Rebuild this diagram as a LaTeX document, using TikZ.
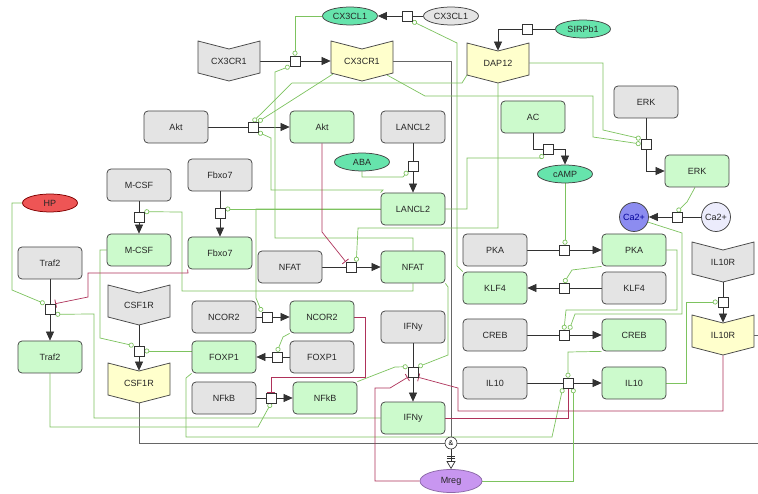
\documentclass[tikz,border=0pt]{standalone}
\usepackage{fontspec}
\setmainfont{Liberation Sans}
\usetikzlibrary{arrows.meta,shapes.geometric,calc}
\definecolor{gfill}{RGB}{228,228,228}
\definecolor{bdraw}{RGB}{70,70,70}
\definecolor{nfill}{RGB}{204,250,204}
\definecolor{yfill}{RGB}{255,255,204}
\definecolor{tfill}{RGB}{102,228,172}
\definecolor{lgreen}{RGB}{125,195,95}
\definecolor{lred}{RGB}{175,50,90}
\definecolor{hpred}{RGB}{238,85,85}
\definecolor{cablue}{RGB}{140,140,240}
\definecolor{calight}{RGB}{236,236,252}
\definecolor{mregc}{RGB}{200,150,240}
\definecolor{lblack}{RGB}{50,50,50}
\pgfdeclarelayer{back}
\pgfdeclarelayer{bg}
\pgfsetlayers{back,bg,main}
\tikzset{
 base/.style={font=\fontsize{9}{10}\selectfont, text=black!85, draw=bdraw, line width=0.75pt, inner sep=0pt},
 gbox/.style={base, rectangle, rounded corners=4pt, minimum width=64pt, minimum height=32pt, fill=gfill},
 nbox/.style={gbox, fill=nfill},
 ell/.style={base, ellipse, minimum width=55pt, minimum height=18pt},
 proc/.style={draw=lblack, fill=white, minimum size=10pt, inner sep=0pt, line width=0.6pt},
 rtext/.style={base, draw=none, minimum width=62pt, minimum height=40pt},
 rshape/.style={draw=bdraw, line width=0.75pt},
 cons/.style={draw=lblack, line width=0.7pt},
 prod/.style={cons, -{Triangle[length=9pt,width=8pt]}},
 cat/.style={draw=lgreen, line width=0.7pt, -{Circle[length=5pt,width=5pt,fill=white]}},
 inh/.style={draw=lred, line width=0.7pt, -{Bar[width=8pt,line width=0.8pt]}},
 andl/.style={draw=gray!80!black, line width=0.8pt},
}
\newcommand{\rcpt}[5]{\draw[rshape,fill=#5,shift={(#2,#3)}] (-31,-20) -- (0,-12) -- (31,-20) -- (31,12) -- (0,20) -- (-31,12) -- cycle; \node[rtext] (#1) at (#2,#3) {#4};}
\begin{document}
\begin{tikzpicture}[x=1pt,y=-1pt]
\begin{pgfonlayer}{back}
\fill[white] (0,0) rectangle (758,494);
\end{pgfonlayer}
\useasboundingbox (0,0) rectangle (758,494);
% receptors
\rcpt{gCXR}{229}{61}{CX3CR1}{gfill}
\rcpt{yCXR}{362}{61}{CX3CR1}{yfill}
\rcpt{yDAP}{498}{63}{DAP12}{yfill}
\rcpt{gCSF}{139}{305}{CSF1R}{gfill}
\rcpt{yCSF}{139}{383}{CSF1R}{yfill}
\rcpt{gILR}{723}{262}{IL10R}{gfill}
\rcpt{yILR}{723}{335}{IL10R}{yfill}
% ellipses
\node[ell, fill=tfill] (eCL) at (350,16) {CX3CL1};
\node[ell, fill=gfill] (gCL) at (451,16) {CX3CL1};
\node[ell, fill=tfill] (eSI) at (583,29) {SIRPb1};
\node[ell, fill=tfill] (eABA) at (362,162) {ABA};
\node[ell, fill=tfill] (ecAMP) at (565,174) {cAMP};
\node[ell, fill=hpred, draw=red!50!black] (eHP) at (50,203) {HP};
\node[base, circle, minimum size=29pt, fill=cablue, text=blue!60!black] (cCa) at (634,217) {Ca2+};
\node[base, circle, minimum size=29pt, fill=calight] (cCa2) at (716,217) {Ca2+};
\node[ell, fill=mregc, minimum width=62pt, minimum height=23pt, draw=mregc!70!black] (eMreg) at (451,481) {Mreg};
% gray boxes
\node[gbox] (gAkt) at (176,127) {Akt};
\node[gbox] (gLAN) at (413,127) {LANCL2};
\node[gbox] (gERK) at (646,102) {ERK};
\node[gbox] (gMCSF) at (139,185) {M-CSF};
\node[gbox] (gFb) at (220,175) {Fbxo7};
\node[gbox] (gTr) at (50,263) {Traf2};
\node[gbox] (gNC) at (224,317) {NCOR2};
\node[gbox] (gNF) at (290,267) {NFAT};
\node[gbox] (gPKA) at (495,250) {PKA};
\node[gbox] (gKLF) at (634,288) {KLF4};
\node[gbox] (gFX) at (322,357) {FOXP1};
\node[gbox] (gNK) at (224,398) {NFkB};
\node[gbox] (gIF) at (413,327) {IFNy};
\node[gbox] (gCR) at (495,335) {CREB};
\node[gbox] (gIL) at (495,383) {IL10};
% green boxes
\node[nbox] (nAkt) at (322,127) {Akt};
\node[nbox] (nAC) at (533,117) {AC};
\node[nbox] (nERK) at (697,171) {ERK};
\node[nbox] (nLAN) at (413,209) {LANCL2};
\node[nbox] (nMCSF) at (139,250) {M-CSF};
\node[nbox] (nFb) at (220,253) {Fbxo7};
\node[nbox] (nNF) at (413,267) {NFAT};
\node[nbox] (nPKA) at (634,250) {PKA};
\node[nbox] (nKLF) at (495,288) {KLF4};
\node[nbox] (nNC) at (322,317) {NCOR2};
\node[nbox] (nFX) at (224,357) {FOXP1};
\node[nbox] (nTr) at (50,357) {Traf2};
\node[nbox] (nNK) at (325,398) {NFkB};
\node[nbox] (nIF) at (413,418) {IFNy};
\node[nbox] (nCR) at (634,335) {CREB};
\node[nbox] (nIL) at (634,383) {IL10};
% processes
\node[proc] (pCX) at (295,61) {};
\node[proc] (pCL) at (407,16) {};
\node[proc] (pSI) at (527,29) {};
\node[proc] (pAkt) at (253,127) {};
\node[proc] (pLA) at (413,166) {};
\node[proc] (pAC) at (548,149) {};
\node[proc] (pERK) at (646,144) {};
\node[proc] (pMC) at (139,217) {};
\node[proc] (pFb) at (220,213) {};
\node[proc] (pCa) at (677,217) {};
\node[proc] (pNF) at (351,267) {};
\node[proc] (pPKA) at (564,250) {};
\node[proc] (pKLF) at (564,288) {};
\node[proc] (pTr) at (50,309) {};
\node[proc] (pNC) at (267,317) {};
\node[proc] (pIR) at (723,302) {};
\node[proc] (pCS) at (139,351) {};
\node[proc] (pFX) at (277,357) {};
\node[proc] (pCR) at (564,335) {};
\node[proc] (pIF) at (413,372) {};
\node[proc] (pNK) at (271,398) {};
\node[proc] (pIL) at (568,383) {};
\node[proc, circle, minimum size=12pt, font=\fontsize{7}{7}\selectfont] (and) at (451,443) {\&};
\coordinate (rEdge1) at (758,443);
\coordinate (rEdge2) at (758,335);
\begin{pgfonlayer}{bg}
% consumption / production
\draw[cons] (gCXR.east) -- (pCX.west);
\draw[prod] (pCX.east) -- (yCXR.west);
\draw[cons] (gCL.west) -- (pCL.east);
\draw[prod] (pCL.west) -- (eCL.east);
\draw[cons] (eSI.west) -- (pSI.east);
\draw[prod] (pSI.west) -| ($(yDAP.north)+(0,8)$);
\draw[cons] (gAkt.east) -- (pAkt.west);
\draw[prod] (pAkt.east) -- (nAkt.west);
\draw[cons] (gLAN.south) -- (pLA.north);
\draw[prod] (pLA.south) -- (nLAN.north);
\draw[cons] (nAC.south) |- (pAC.west);
\draw[prod] (pAC.east) -| (ecAMP.north);
\draw[cons] (gERK.south) -- (pERK.north);
\draw[prod] (pERK.south) |- (nERK.west);
\draw[cons] (gMCSF.south) -- (pMC.north);
\draw[prod] (pMC.south) -- (nMCSF.north);
\draw[cons] (gFb.south) -- (pFb.north);
\draw[prod] (pFb.south) -- (nFb.north);
\draw[cons] (cCa2.west) -- (pCa.east);
\draw[prod] (pCa.west) -- (cCa.east);
\draw[cons] (gNF.east) -- (pNF.west);
\draw[prod] (pNF.east) -- (nNF.west);
\draw[cons] (gPKA.east) -- (pPKA.west);
\draw[prod] (pPKA.east) -- (nPKA.west);
\draw[cons] (gKLF.west) -- (pKLF.east);
\draw[prod] (pKLF.west) -- (nKLF.east);
\draw[cons] (gTr.south) -- (pTr.north);
\draw[prod] (pTr.south) -- (nTr.north);
\draw[cons] (gNC.east) -- (pNC.west);
\draw[prod] (pNC.east) -- (nNC.west);
\draw[cons] (gILR.south) -- (pIR.north);
\draw[prod] (pIR.south) -- ($(yILR.north)+(0,8)$);
\draw[cons] (gCSF.south) -- (pCS.north);
\draw[prod] (pCS.south) -- ($(yCSF.north)+(0,8)$);
\draw[cons] (gFX.west) -- (pFX.east);
\draw[prod] (pFX.west) -- (nFX.east);
\draw[cons] (gCR.east) -- (pCR.west);
\draw[prod] (pCR.east) -- (nCR.west);
\draw[cons] (gIF.south) -- (pIF.north);
\draw[prod] (pIF.south) -- (nIF.north);
\draw[cons] (gNK.east) -- (pNK.west);
\draw[prod] (pNK.east) -- (nNK.west);
\draw[cons] (gIL.east) -- (pIL.west);
\draw[prod] (pIL.east) -- (nIL.west);
% AND to Mreg
\draw[andl] (yCXR.east) -| (and.north);
\draw[andl] (yCSF.south) |- (and.west);
\draw[andl] (and.east) -- (rEdge1);
\draw[andl] (yILR.east) -- (rEdge2);
\draw[cons, -{Bar[width=8pt,sep=2pt]Bar[width=8pt,sep=2pt]Triangle[open,length=8pt,width=9pt]}] (and.south) -- (eMreg.north);
% catalysis (green)
\draw[cat] (eCL.west) -| (pCX.north);
\draw[cat] (nNF.north) |- (275,238) -- (275,72) -- (pCX.south west);
\draw[cat] (nKLF.north west) -- (457,266) -- (457,43) -- (pCL.south east);
\draw[cat] (yDAP.east) -- (603,63) -- (603,130) -- (pERK.north west);
\draw[cat] ($(yCXR)+(25,14)$) -- (425,96) -- (593,96) -- (593,137) -- (pERK.west);
\draw[cat] ($(yDAP)+(-31,12)$) -- (462,83) -- (292,83) -- (pAkt.north);
\draw[cat] ($(yCXR)+(-29,13)$) -- (pAkt.north east);
\draw[cat] (nLAN.north west) -- (383,190) -- (271,190) -- (271,138) -- (pAkt.south east);
\draw[cat] (eABA.south) -- (362,177) -- (403,177) -- (pLA.south west);
\draw[cat] (nLAN.west) -- (nLAN.west -| pFb.east);
\draw[cat] (nLAN.west) -- (256,209) -- (256,298) -- (pNC.north west);
\draw[cat] (nNF.south) -- (413,291) -- (182,291) -- (182,212) -- (pMC.north east);
\draw[cat] (eHP.west) -- (12,203) -- (12,290) -- (pTr.north west);
\draw[cat] (nIF.west) -| (94,314) -- (pTr.south east);
\draw[cat] (nMCSF.west) -- (100,250) -- (100,338) -- (pCS.north west);
\draw[cat] (pCS.east -| nFX.west) -- (pCS.east);
\draw[cat] (nFX.south west) -- (186,378) -- (186,437) -- (552,437) -- (pIL.south west);
\draw[cat] (eMreg.east) -| (pIL.south east);
\draw[cat] (nCR.south west) -- (568,352) -- (pIL.north);
\draw[cat] (nTr.south) -- (50,427) -- (258,427) -- (pNK.south);
\draw[cat] (nNC.south west) -- (283,337) -- (pFX.north);
\draw[cat] (nNK.north east) -- (395,367) -- (pIF.north west);
\draw[cat] (nNF.south east) -- (448,287) -- (448,355) -- (pIF.north east);
\draw[cat] (yDAP.south) -- (498,228) -- (358,228) -- (pNF.north east);
\draw[cat] (nLAN.east) -- (467,209) -- (467,158) -- (541,158) -- (pAC.south west);
\draw[cat] (ecAMP.south) -- (ecAMP.south |- pPKA.north);
\draw[cat] (nPKA.south west) -- (572,270) -- (pKLF.north);
\draw[cat] (nPKA.east) -- (677,250) -- (677,310) -- (566,310) -- (pCR.north);
\draw[cat] (cCa.-20) -- (682,233) -- (682,314) -- (575,314) -- (pCR.north east);
\draw[cat] ($(nERK.south)+(-2,0)$) -- (687,202) -- (pCa.north);
\draw[cat] (nIL.east) -| (686,302) -- (pIR.west);
% inhibition (red)
\draw[inh] (nFb.south west) -- (188,273) -- (88,273) -- (88,297) -- (pTr.north east);
\draw[inh] (nAkt.south) -- (322,232) -- (pNF.north west);
\draw[inh] (nNC.east) -- (365,317) -- (365,377) -- (271,377) -- (pNK.north);
\draw[inh] (yILR.south) -- (723,411) -- (458,411) -- (458,388) -- (pIF.south east);
\draw[inh] (eMreg.west) -- (375,481) -- (375,388) -- (390,388) -- (pIF.south west);
\draw[inh] (nIF.east) -| (pIL.south);
\end{pgfonlayer}
\end{tikzpicture}
\end{document}
